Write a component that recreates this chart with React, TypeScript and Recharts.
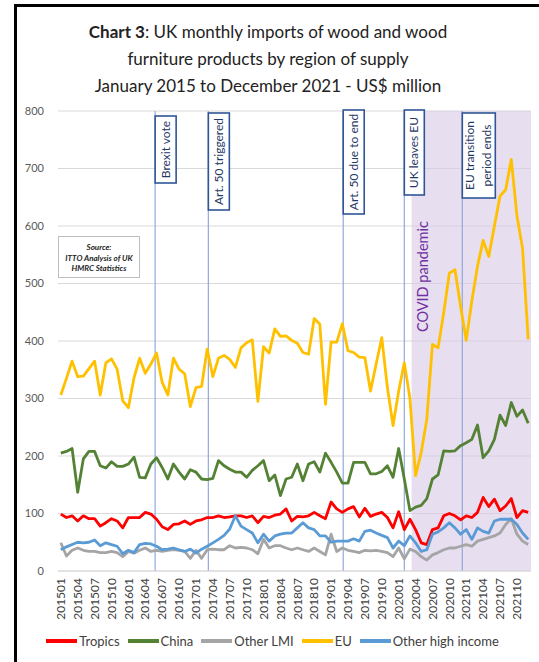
import React from "react";
import {
  LineChart,
  Line,
  XAxis,
  YAxis,
  CartesianGrid,
  ReferenceLine,
  ReferenceArea,
  Legend,
} from "recharts";

// months Jan 2015 .. Dec 2021, shown as YYYYMM
const years = [2015, 2016, 2017, 2018, 2019, 2020, 2021];
const monthCodes = ["01", "02", "03", "04", "05", "06", "07", "08", "09", "10", "11", "12"];
const months = years.flatMap((y) => monthCodes.map((m) => `${y}${m}`));

const tropics = [
  99, 93, 96, 87, 96, 91, 91, 78, 84, 91, 87, 75, 93, 93, 93, 102, 99, 90, 77, 72, 81,
  82, 87, 81, 87, 89, 93, 93, 96, 93, 94, 96, 96, 93, 96, 84, 95, 93, 97, 99, 108,
  87, 95, 94, 96, 102, 96, 91, 120, 108, 102, 108, 112, 94, 109, 95, 99, 102, 93, 75,
  103, 72, 90, 72, 49, 46, 72, 75, 96, 100, 96, 89, 96, 93, 102, 128, 112, 125, 105,
  113, 126, 93, 105, 102,
];

const china = [
  205, 208, 213, 137, 195, 208, 208, 183, 179, 190, 182, 182, 186, 198, 163, 162, 186,
  197, 180, 160, 186, 172, 160, 176, 172, 160, 159, 161, 192, 183, 177, 172, 172, 163,
  175, 183, 192, 157, 167, 131, 160, 163, 186, 157, 186, 190, 172, 205, 189, 172, 153,
  153, 189, 189, 189, 169, 169, 173, 183, 163, 213, 160, 105, 111, 114, 126, 160, 167,
  209, 208, 209, 218, 223, 229, 254, 197, 209, 229, 271, 253, 293, 269, 280, 257,
];

const otherLmi = [
  49, 26, 36, 40, 36, 34, 34, 32, 32, 34, 32, 25, 34, 31, 36, 40, 34, 36, 34, 36, 37,
  36, 34, 22, 36, 22, 37, 38, 37, 37, 44, 40, 41, 40, 37, 30, 55, 40, 44, 44, 40, 37,
  40, 37, 34, 40, 34, 28, 64, 34, 40, 36, 34, 32, 36, 35, 36, 34, 32, 25, 40, 21, 38,
  34, 25, 19, 28, 32, 37, 40, 40, 43, 46, 43, 52, 55, 58, 61, 66, 81, 91, 64, 52, 46,
];

const eu = [
  306, 335, 365, 338, 339, 352, 365, 306, 362, 369, 351, 296, 284, 336, 370, 344, 360,
  379, 328, 306, 370, 351, 343, 286, 319, 321, 386, 338, 370, 375, 368, 354, 388, 397,
  402, 295, 390, 379, 421, 408, 409, 401, 396, 380, 377, 439, 429, 290, 398, 398, 430,
  383, 380, 372, 371, 313, 360, 406, 319, 253, 313, 362, 300, 166, 206, 264, 394, 388,
  449, 518, 524, 460, 401, 470, 530, 575, 547, 600, 652, 663, 716, 618, 561, 403,
];

const otherHigh = [
  37, 42, 46, 50, 49, 50, 54, 44, 49, 46, 43, 30, 36, 32, 46, 48, 47, 43, 37, 38, 40,
  37, 34, 38, 31, 38, 43, 49, 55, 62, 73, 96, 78, 72, 66, 49, 64, 52, 61, 64, 66, 66,
  75, 84, 75, 72, 61, 61, 50, 52, 52, 52, 56, 52, 69, 71, 66, 62, 58, 40, 52, 44, 61,
  49, 34, 37, 64, 68, 75, 84, 75, 64, 72, 55, 75, 69, 66, 87, 90, 90, 90, 81, 66, 55,
];

const yTicks = [0, 100, 200, 300, 400, 500, 600, 700, 800];

// events, positioned in month-index units
const events = [
  { lines: ["Brexit vote"], at: 16.75 },
  { lines: ["Art. 50 triggered"], at: 26.2 },
  { lines: ["Art. 50 due to end"], at: 50.15 },
  { lines: ["UK leaves EU"], at: 61 },
  { lines: ["EU transition", "period ends"], at: 71.3 },
];
const covidStart = 62.3;

const boxLayout = [
  { top: 5, width: 21, height: 67 },
  { top: 2, width: 21, height: 97 },
  { top: -1, width: 21, height: 104 },
  { top: -1, width: 20, height: 85 },
  { top: 2, width: 33, height: 85 },
];

const series = [
  { key: "tropics", name: "Tropics", color: "#FF0000" },
  { key: "china", name: "China", color: "#548235" },
  { key: "otherLmi", name: "Other LMI", color: "#A5A5A5" },
  { key: "eu", name: "EU", color: "#FFC000" },
  { key: "otherHigh", name: "Other high income", color: "#5B9BD5" },
];

const data = months.map((m, i) => ({
  idx: i,
  month: m,
  tropics: tropics[i],
  china: china[i],
  otherLmi: otherLmi[i],
  eu: eu[i],
  otherHigh: otherHigh[i],
}));

const xTicks = months.map((_, i) => i).filter((i) => i % 3 === 0);

function MonthTick({ x, y, payload }: any) {
  return (
    <text
      x={x}
      y={y}
      transform={`rotate(-90, ${x}, ${y})`}
      textAnchor="end"
      dy="0.35em"
      fontSize={12}
      fill="#404040"
    >
      {months[payload.value]}
    </text>
  );
}

function EventBox({ viewBox, lines, box }: any) {
  const x = viewBox.x;
  const y = viewBox.y + box.top;
  const cx = x + box.width / 2;
  const cy = y + box.height / 2;
  return (
    <g>
      <rect
        x={x}
        y={y}
        width={box.width}
        height={box.height}
        fill="#fff"
        stroke="#2F5597"
        strokeWidth={1.6}
      />
      {lines.map((t: string, k: number) => {
        const lx = cx + (k - (lines.length - 1) / 2) * 17;
        return (
          <text
            key={k}
            x={lx}
            y={cy}
            transform={`rotate(-90, ${lx}, ${cy})`}
            textAnchor="middle"
            dy="0.35em"
            fontSize={12}
            fill="#1F3864"
          >
            {t}
          </text>
        );
      })}
    </g>
  );
}

function CovidLabel({ viewBox }: any) {
  const x = viewBox.x + 11;
  const y = viewBox.y + viewBox.height * 0.36;
  return (
    <text
      x={x}
      y={y}
      transform={`rotate(-90, ${x}, ${y})`}
      textAnchor="middle"
      dy="0.35em"
      fontSize={14.5}
      fill="#7030A0"
    >
      COVID pandemic
    </text>
  );
}

// legend follows the series order, not recharts' sorted payload
function LegendContent() {
  return (
    <div
      style={{
        display: "flex",
        justifyContent: "center",
        alignItems: "center",
        height: 20,
        paddingLeft: 22,
        fontSize: 13,
        color: "#404040",
      }}
    >
      {series.map((s) => (
        <span
          key={s.key}
          style={{ display: "flex", alignItems: "center", marginRight: 8 }}
        >
          <span
            style={{
              display: "inline-block",
              width: 31,
              height: 4,
              background: s.color,
              marginRight: 2,
            }}
          />
          {s.name}
        </span>
      ))}
    </div>
  );
}

export default function App() {
  return (
    <div
      style={{
        position: "absolute",
        left: 0,
        top: 0,
        width: 539,
        height: 662,
        background: "#fff",
        overflow: "hidden",
        fontFamily: "Lato, 'Open Sans', sans-serif",
      }}
    >
      <div
        style={{
          position: "absolute",
          left: 14,
          top: 4,
          width: 600,
          height: 700,
          borderLeft: "3px solid #000",
          borderTop: "3px solid #000",
        }}
      />
      <div
        style={{
          position: "absolute",
          left: 0,
          top: 18,
          width: 536,
          textAlign: "center",
          fontSize: 17,
          lineHeight: "27px",
          color: "#222",
        }}
      >
        <div>
          <b>Chart 3</b>: UK monthly imports of wood and wood
        </div>
        <div>furniture products by region of supply</div>
        <div>January 2015 to December 2021 - US$ million</div>
      </div>

      <div style={{ position: "absolute", left: 0, top: 0 }}>
        <LineChart
          width={539}
          height={662}
          data={data}
          margin={{ top: 111, right: 8, bottom: 11, left: 0 }}
        >
          <CartesianGrid vertical={false} stroke="#D9D9D9" strokeWidth={1.2} />
          <ReferenceArea
            x1={covidStart}
            x2={83.5}
            y1={0}
            y2={800}
            fill="#D9C9E6"
            fillOpacity={0.62}
            stroke="none"
            label={(p: any) => <CovidLabel viewBox={p.viewBox} />}
          />
          {events.map((ev, i) => (
            <ReferenceLine
              key={ev.lines[0]}
              x={ev.at}
              stroke="#8FAADC"
              strokeWidth={1.2}
              label={(p: any) => (
                <EventBox viewBox={p.viewBox} lines={ev.lines} box={boxLayout[i]} />
              )}
            />
          ))}
          <XAxis
            dataKey="idx"
            type="number"
            domain={[-0.5, 83.5]}
            ticks={xTicks}
            interval={0}
            tick={<MonthTick />}
            tickLine={false}
            tickSize={0}
            tickMargin={7}
            axisLine={{ stroke: "#D9D9D9" }}
            height={60}
          />
          <YAxis
            domain={[0, 800]}
            ticks={yTicks}
            width={58}
            axisLine={false}
            tickLine={false}
            tickSize={0}
            tickMargin={14}
            tick={{ fontSize: 11, fill: "#595959" }}
          />
          <Legend verticalAlign="bottom" content={<LegendContent />} />
          {series.map((s) => (
            <Line
              key={s.key}
              dataKey={s.key}
              name={s.name}
              stroke={s.color}
              strokeWidth={2.8}
              dot={false}
              strokeLinejoin="round"
              isAnimationActive={false}
            />
          ))}
        </LineChart>
      </div>

      <div
        style={{
          position: "absolute",
          left: 58,
          top: 236,
          width: 82,
          height: 42,
          border: "1px solid #BFBFBF",
          background: "#fff",
          fontSize: 8,
          fontStyle: "italic",
          fontWeight: 700,
          lineHeight: "10.5px",
          textAlign: "center",
          color: "#222",
          boxSizing: "border-box",
          paddingTop: 5,
        }}
      >
        <div>Source:</div>
        <div>ITTO Analysis of UK</div>
        <div>HMRC Statistics</div>
      </div>
    </div>
  );
}
